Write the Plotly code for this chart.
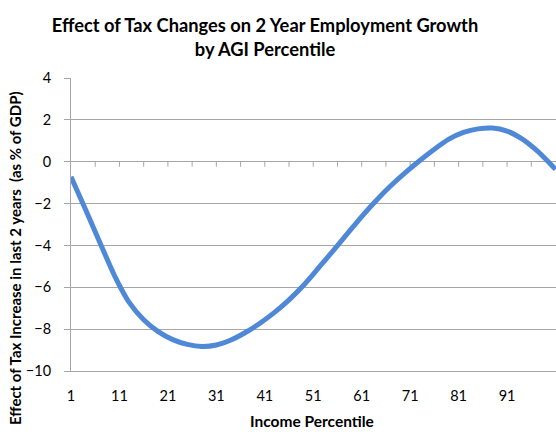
import plotly.graph_objects as go

# Income percentile and estimated employment-growth effect
percentile = [1, 4, 7, 10, 13, 16, 19, 22, 25, 28, 31, 34, 37, 40, 43, 46, 49,
              52, 55, 58, 61, 64, 67, 70, 73, 76, 79, 82, 85, 88, 91, 94, 97,
              100, 101]
effect = [-0.72, -2.28, -3.88, -5.45, -6.72, -7.55, -8.12, -8.5, -8.73, -8.83,
          -8.76, -8.52, -8.16, -7.72, -7.2, -6.6, -5.9, -5.1, -4.28, -3.45,
          -2.62, -1.85, -1.15, -0.52, 0.06, 0.6, 1.08, 1.4, 1.57, 1.61, 1.46,
          1.1, 0.56, -0.12, -0.36]

x_ticks = [1, 11, 21, 31, 41, 51, 61, 71, 81, 91]
x_minor_ticks = list(range(6, 101, 5))
y_ticks = [-10, -8, -6, -4, -2, 0, 2, 4]

GRID = "#A6A6A6"
FONT = "Lato"

W, H = 556, 443
L, R, T, B = 71, 0, 78, 72
PW, PH = W - L - R, H - T - B
y_min, y_max = -10, 4
TICK_LEN = 5 * (y_max - y_min) / PH  # 5 px expressed in data units


def px_to_paper(px, py):
    return (px - L) / PW, (H - B - py) / PH


fig = go.Figure()
fig.add_trace(go.Scatter(
    x=percentile, y=effect, mode="lines",
    line=dict(color="#4F88D6", width=5, shape="spline", smoothing=0.7),
    hoverinfo="skip", showlegend=False,
))

# tick marks hanging below the zero-crossing category axis
for v in x_minor_ticks:
    fig.add_shape(type="line", xref="x", yref="y", x0=v, x1=v,
                  y0=0, y1=-TICK_LEN, line=dict(color=GRID, width=1),
                  layer="below")

xt_x, xt_y = px_to_paper(312, 421)
yt_x, yt_y = px_to_paper(15, 258)

fig.update_layout(
    width=W, height=H,
    margin=dict(l=L, r=R, t=T, b=B),
    paper_bgcolor="white", plot_bgcolor="white",
    font=dict(family=FONT, color="#000000"),
    title=dict(
        text="Effect of Tax Changes on 2 Year Employment Growth<br>by AGI Percentile",
        x=265 / W, xref="container", xanchor="center",
        y=1 - 32 / H, yref="container", yanchor="middle",
        font=dict(family=FONT, size=18.3, color="#000000", weight="bold"),
    ),
    xaxis=dict(
        range=[1, 101.1], tickvals=x_ticks, ticktext=[str(v) for v in x_ticks],
        showgrid=False, zeroline=False, showline=True, linecolor=GRID,
        linewidth=1, ticks="", ticklabelstandoff=12,
        tickfont=dict(family=FONT, size=14.5, color="#000000"),
    ),
    yaxis=dict(
        range=[y_min, y_max], tickvals=y_ticks,
        showgrid=True, gridcolor=GRID, gridwidth=1, zeroline=False,
        showline=True, linecolor=GRID, linewidth=1,
        ticks="outside", ticklen=6, tickcolor=GRID, ticklabelstandoff=10,
        tickfont=dict(family=FONT, size=14.5, color="#000000"),
    ),
    annotations=[
        dict(text="Income Percentile", x=xt_x, y=xt_y,
             xref="paper", yref="paper", xanchor="center",
             yanchor="middle", showarrow=False,
             font=dict(family=FONT, size=15.5, color="#000000", weight="bold")),
        dict(text="Effect of Tax Increase in last 2 years  (as % of GDP)",
             x=yt_x, y=yt_y, xref="paper", yref="paper",
             xanchor="center", yanchor="middle", textangle=-90,
             showarrow=False,
             font=dict(family=FONT, size=15, color="#000000", weight="bold")),
    ],
)

fig.write_html("out.html")
